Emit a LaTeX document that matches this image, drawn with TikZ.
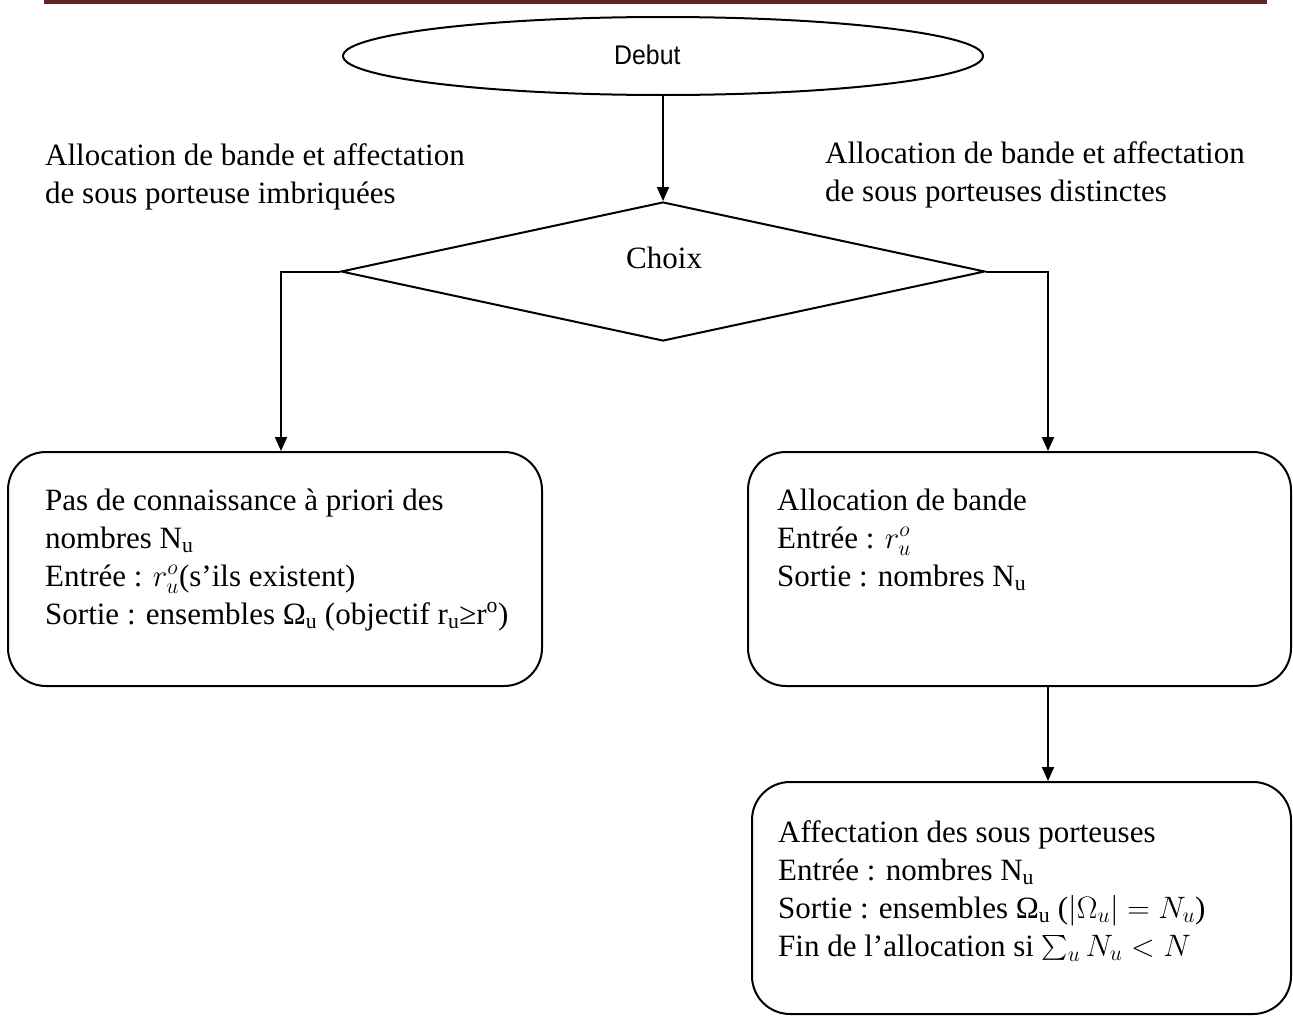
\RequirePackage{fix-cm}
\documentclass[tikz,border=0pt]{standalone}
\usepackage{amsmath}
\usepackage{fontspec}
\setmainfont{Liberation Serif}
\newfontfamily\labelsans[FakeStretch=0.92]{Liberation Sans}
\usetikzlibrary{shapes.geometric,arrows.meta}
\definecolor{headerred}{HTML}{622423}
\begin{document}
\begin{tikzpicture}[x=1pt,y=-1pt,
  outline/.style={draw=black,line width=2pt},
  flow/.style={line width=2pt,-{Triangle[length=14pt,width=12pt]}},
  roundbox/.style={outline,rectangle,rounded corners=38pt,inner sep=0pt},
  % multi-line text: the base anchor sits on the last line
  txt/.style={inner sep=0pt,align=left,anchor=base west,font=\fontsize{31}{38}\selectfont},
]
\useasboundingbox (0,0) rectangle (1293,1017);

% page header rule
\fill[headerred] (44,0) rectangle (1267,4);

% start terminal
\node[outline,ellipse,minimum width=640pt,minimum height=78pt,inner sep=0pt] (start) at (663,56) {};
\node[inner sep=0pt,anchor=base west,font=\labelsans\fontsize{27}{31}\selectfont] (startlbl) at (614,64) {Debut};

% decision
\node[outline,diamond,aspect=4.63,minimum width=644pt,minimum height=139pt,inner sep=0pt] (choice) at (663,271.5) {};
\node[txt] (choicelbl) at (626,268) {Choix};

% branch labels
\node[txt] (labL) at (45,203) {Allocation de bande et affectation\\de sous porteuse imbriquées};
\node[txt] (labR) at (825,201) {Allocation de bande et affectation\\de sous porteuses distinctes};

% process boxes
\node[roundbox,minimum width=534pt,minimum height=234pt] (boxL) at (275,569) {};
\node[roundbox,minimum width=543pt,minimum height=234pt] (boxR) at (1019.5,569) {};
\node[roundbox,minimum width=539pt,minimum height=232pt] (boxB) at (1021.5,898) {};

\node[txt] (txtL) at (45,624) {Pas de connaissance à priori des\\nombres N\textsubscript{u}\\Entrée : $r_u^o$(s’ils existent)\\Sortie : ensembles Ω\textsubscript{u} (objectif r\textsubscript{u}≥r\textsuperscript{o})};
\node[txt] (txtR) at (777,586) {Allocation de bande\\Entrée : $r_u^o$\\Sortie : nombres N\textsubscript{u}};
\node[txt] (txtB) at (778,956) {Affectation des sous porteuses\\Entrée : nombres N\textsubscript{u}\\Sortie : ensembles Ω\textsubscript{u} ($|\Omega_u| = N_u$)\\Fin de l’allocation si $\sum_u N_u < N$};

% connectors
\draw[flow] (start.south) -- (choice.north);
\draw[flow] (choice.west) -| ([xshift=6pt]boxL.north);
\draw[flow] (choice.east) -| ([xshift=28.5pt]boxR.north);
\draw[flow] ([xshift=28.5pt]boxR.south) -- ([xshift=28.5pt]boxR.south |- boxB.north);
\end{tikzpicture}
\end{document}
